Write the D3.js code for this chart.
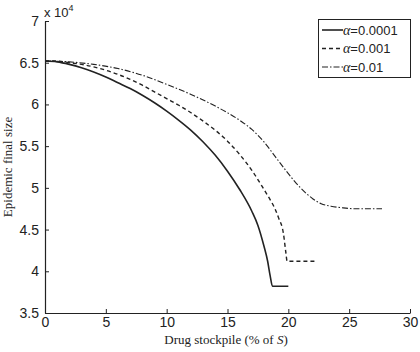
<!DOCTYPE html>
<html>
<head>
<meta charset="utf-8">
<script src="https://cdn.jsdelivr.net/npm/d3@7"></script>
<style>
body { margin: 0; background: #fff; }
svg { display: block; }
</style>
</head>
<body>
<svg id="chart"></svg>
<script>
// values (y in units of 10^4)
var xLow  = [0, 1, 2, 3, 4, 5, 6, 7, 8, 9, 10, 11, 12, 13, 14, 15, 16, 17, 17.5, 18, 18.3, 18.5, 18.7, 20];
var yLow  = [6.52, 6.51, 6.48, 6.44, 6.39, 6.33, 6.26, 6.19, 6.11, 6.02, 5.92, 5.81, 5.69, 5.55, 5.39, 5.20, 4.98, 4.72, 4.55, 4.30, 4.12, 3.95, 3.82, 3.82];

var xMid  = [0, 1, 2, 3, 4, 5, 6, 7, 8, 9, 10, 11, 12, 13, 14, 15, 16, 17, 18, 18.5, 18.9, 19.2, 19.6, 19.8, 19.9, 22.2];
var yMid  = [6.52, 6.52, 6.50, 6.48, 6.45, 6.41, 6.36, 6.30, 6.23, 6.15, 6.07, 5.99, 5.90, 5.80, 5.69, 5.56, 5.40, 5.21, 4.98, 4.86, 4.75, 4.64, 4.45, 4.22, 4.12, 4.12];

var xHigh = [0, 2, 4, 6, 8, 10, 12, 14, 15, 16, 17, 18, 19, 20, 20.5, 21, 21.5, 22, 22.7, 23.5, 24.5, 25.5, 27.7];
var yHigh = [6.52, 6.51, 6.48, 6.43, 6.35, 6.24, 6.12, 5.98, 5.90, 5.81, 5.70, 5.55, 5.36, 5.17, 5.08, 5.00, 4.93, 4.87, 4.81, 4.78, 4.76, 4.75, 4.75];

var seriesNames = ["0.0001", "0.001", "0.01"];
var xTicks = [0, 5, 10, 15, 20, 25, 30];
var yTicks = [3.5, 4, 4.5, 5, 5.5, 6, 6.5, 7];

function draw() {
  var width = 420, height = 352;
  var mLeft = 45, mRight = 410, mTop = 21, mBottom = 313;

  var svg = d3.select("#chart").attr("width", width).attr("height", height);

  var xs = d3.scaleLinear().domain([0, 30]).range([mLeft, mRight]);
  var ys = d3.scaleLinear().domain([3.5, 7]).range([mBottom, mTop]);

  var dashes = [null, "4,3", "6,2,1.5,2"];
  var widths = [1.6, 1.4, 1.1];

  var series = [
    xLow.map(function(x, i) { return [x, yLow[i]]; }),
    xMid.map(function(x, i) { return [x, yMid[i]]; }),
    xHigh.map(function(x, i) { return [x, yHigh[i]]; })
  ];

  var line = d3.line()
    .x(function(d) { return xs(d[0]); })
    .y(function(d) { return ys(d[1]); })
    .curve(d3.curveMonotoneX);

  svg.selectAll("path.curve")
    .data(series)
    .enter()
    .append("path")
    .attr("class", "curve")
    .attr("d", line)
    .attr("fill", "none")
    .attr("stroke", "#222")
    .attr("stroke-width", function(d, i) { return widths[i]; })
    .attr("stroke-dasharray", function(d, i) { return dashes[i]; });

  // axes, MATLAB style ticks pointing inward
  var xAxis = svg.append("g")
    .attr("transform", "translate(0," + mBottom + ")")
    .call(d3.axisBottom(xs).tickValues(xTicks).tickSizeInner(-4).tickSizeOuter(0).tickPadding(6));

  var yAxis = svg.append("g")
    .attr("transform", "translate(" + mLeft + ",0)")
    .call(d3.axisLeft(ys).tickValues(yTicks).tickSizeInner(-4).tickSizeOuter(0).tickPadding(6).tickFormat(d3.format("~g")));

  [xAxis, yAxis].forEach(function(a) {
    a.select(".domain").attr("stroke", "#222").attr("stroke-width", 1.2);
    a.selectAll(".tick line").attr("stroke", "#222");
    a.selectAll("text")
      .attr("fill", "#222")
      .style("font-family", "'Liberation Sans', Arial, sans-serif")
      .style("font-size", "14px");
  });
  xAxis.selectAll("text").attr("dy", "0.6em");

  // exponent label
  var expo = svg.append("text")
    .attr("x", 44).attr("y", 17)
    .attr("fill", "#222")
    .style("font-family", "'Liberation Sans', Arial, sans-serif")
    .style("font-size", "13px");
  expo.append("tspan").text("x 10");
  expo.append("tspan").attr("dy", -6).style("font-size", "9px").text("4");

  // axis titles
  var xl = svg.append("text")
    .attr("x", 226).attr("y", 344)
    .attr("text-anchor", "middle")
    .attr("fill", "#222")
    .style("font-family", "'Liberation Serif', 'Times New Roman', serif")
    .style("font-size", "13px");
  xl.append("tspan").text("Drug stockpile (% of ");
  xl.append("tspan").style("font-style", "italic").text("S");
  xl.append("tspan").text(")");

  svg.append("text")
    .attr("transform", "translate(12," + ((mTop + mBottom) / 2) + ") rotate(-90)")
    .attr("text-anchor", "middle")
    .attr("fill", "#222")
    .style("font-family", "'Liberation Serif', 'Times New Roman', serif")
    .style("font-size", "13px")
    .text("Epidemic final size");

  // legend
  var lg = svg.append("g");
  lg.append("rect")
    .attr("x", 318.5).attr("y", 19.5).attr("width", 92).attr("height", 58)
    .attr("fill", "#fff").attr("stroke", "#222").attr("stroke-width", 1);

  seriesNames.forEach(function(name, i) {
    var yy = 30 + i * 18.5;
    lg.append("line")
      .attr("x1", 322).attr("x2", 343).attr("y1", yy).attr("y2", yy)
      .attr("stroke", "#222")
      .attr("stroke-width", widths[i])
      .attr("stroke-dasharray", dashes[i]);
    var t = lg.append("text")
      .attr("x", 343).attr("y", yy + 4.5)
      .attr("fill", "#222")
      .style("font-family", "'Liberation Sans', Arial, sans-serif")
      .style("font-size", "13px");
    t.append("tspan").style("font-style", "italic").style("font-family", "'Liberation Serif', serif").style("font-size", "14px").text("α");
    t.append("tspan").text("=" + name);
  });
}

draw();
</script>
</body>
</html>
